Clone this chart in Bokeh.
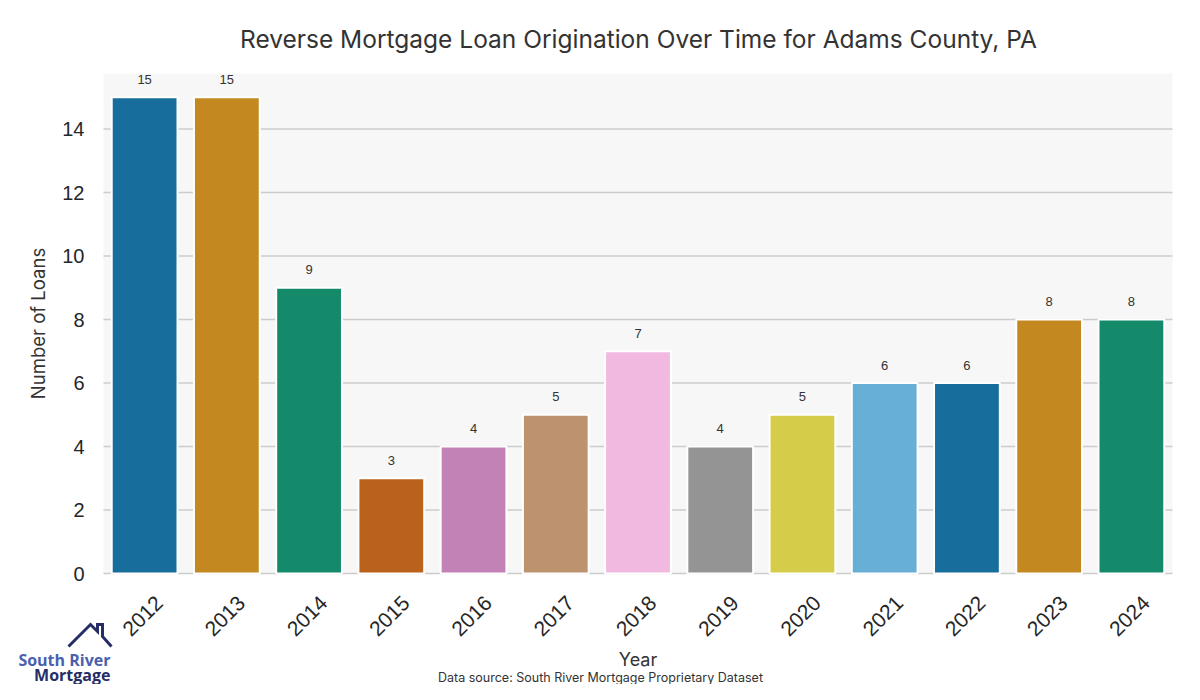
import math
from bokeh.plotting import figure
from bokeh.models import Range1d, FixedTicker, BoxAnnotation
from bokeh.embed import file_html
from bokeh.resources import INLINE
from bokeh.core.properties import value

# ---- data ----
years = ["2012", "2013", "2014", "2015", "2016", "2017", "2018",
         "2019", "2020", "2021", "2022", "2023", "2024"]
loans = [15, 15, 9, 3, 4, 5, 7, 4, 5, 6, 6, 8, 8]
palette = ["#176d9c", "#c38820", "#158a6a", "#ba611b", "#c282b6",
           "#bd926e", "#f1b8e0", "#949494", "#d5cd4a", "#68afd6"]
title_text = "Reverse Mortgage Loan Origination Over Time for Adams County, PA"
x_label = "Year"
y_label = "Number of Loans"
source_text = "Data source: South River Mortgage Proprietary Dataset"
y_ticks = [0, 2, 4, 6, 8, 10, 12, 14]
logo_line1 = "South River"
logo_line2 = "Mortgage"

xs = list(range(len(years)))
colors = [palette[i % len(palette)] for i in xs]

# ---- geometry (canvas px); the frame fills the whole canvas ----
W, H = 1184, 684
FL, FT, FR, FB = 103, 73, 1172, 573      # plot-area box
XMIN, XMAX = -0.5, len(years) - 0.5
YMIN, YMAX = 0, 15.75
PXX = (FR - FL) / (XMAX - XMIN)
PXY = (FB - FT) / (YMAX - YMIN)
LABEL_SHIFT = 0.18   # rotated tick labels centred under the bars

BG = "#f7f7f7"
GRID = "#cccccc"
TXT = "#333333"

p = figure(width=W, height=H, output_backend="svg", toolbar_location=None,
           x_range=Range1d(XMIN - FL / PXX, XMAX + (W - FR) / PXX),
           y_range=Range1d(YMIN - (H - FB) / PXY, YMAX + FT / PXY),
           min_border=0, min_border_left=0, min_border_right=0,
           min_border_top=0, min_border_bottom=0,
           background_fill_color="white", border_fill_color="white",
           outline_line_color=None)
p.extra_x_ranges = {"px": Range1d(0, W)}
p.extra_y_ranges = {"px": Range1d(H, 0)}
p.grid.visible = False

# plot-area background and grid lines
p.add_layout(BoxAnnotation(left=XMIN, right=XMAX, bottom=YMIN, top=YMAX,
                           fill_color=BG, fill_alpha=1, line_color=None,
                           level="underlay"))
p.segment(x0=[XMIN] * len(y_ticks), x1=[XMAX] * len(y_ticks), y0=y_ticks,
          y1=y_ticks, line_color=GRID, line_width=1.6)

# bars and value labels
p.vbar(x=xs, top=loans, width=0.8, fill_color=colors,
       line_color="white", line_width=2)
p.text(x=xs, y=loans, text=[str(v) for v in loans], y_offset=-18,
       text_align="center", text_baseline="middle",
       text_font=value("Liberation Sans"), text_font_size="13px",
       text_color=TXT)

# y axis (pinned to the left edge of the plot area)
ya = p.yaxis[0]
ya.fixed_location = XMIN
ya.bounds = (YMIN, YMAX)
ya.ticker = FixedTicker(ticks=y_ticks)
ya.axis_line_color = None
ya.major_tick_line_color = None
ya.minor_tick_line_color = None
ya.major_label_standoff = 13
ya.major_label_text_font = "Liberation Sans"
ya.major_label_text_font_size = "20px"
ya.major_label_text_color = "#262626"
ya.axis_label = y_label
ya.axis_label_text_font = "Inter"
ya.axis_label_text_font_style = "normal"
ya.axis_label_text_font_size = "18.5px"
ya.axis_label_text_color = TXT
ya.axis_label_standoff = 10

# x axis (pinned to y = 0)
xa = p.xaxis[0]
xa.fixed_location = YMIN
xa.bounds = (XMIN, XMAX)
tick_pos = [round(i + LABEL_SHIFT, 3) for i in xs]
xa.ticker = FixedTicker(ticks=tick_pos)
xa.major_label_overrides = {t: y for t, y in zip(tick_pos, years)}
xa.major_label_orientation = math.pi / 4
xa.axis_line_color = None
xa.major_tick_line_color = None
xa.minor_tick_line_color = None
xa.major_label_standoff = 20
xa.major_label_text_font = "Liberation Sans"
xa.major_label_text_font_size = "21px"
xa.major_label_text_color = "#262626"
xa.axis_label = x_label
xa.axis_label_text_font = "Inter"
xa.axis_label_text_font_style = "normal"
xa.axis_label_text_font_size = "18px"
xa.axis_label_text_color = TXT
xa.axis_label_standoff = 4

# title and source note (pixel coordinates)
p.text(x=[638], y=[38], text=[title_text], text_align="center",
       text_baseline="middle", text_font=value("Inter"),
       text_font_size="24.5px", text_color=TXT,
       x_range_name="px", y_range_name="px")
p.text(x=[600], y=[677], text=[source_text], text_align="center",
       text_baseline="middle", text_font=value("Inter"),
       text_font_size="12.5px", text_color=TXT,
       x_range_name="px", y_range_name="px")

# logo
p.line(x=[68, 90, 97, 97, 102, 102, 111], y=[646, 624, 631, 624, 624, 636, 646],
       line_color="#262d66", line_width=3, line_join="miter",
       x_range_name="px", y_range_name="px")
p.text(x=[110], y=[659], text=[logo_line1], text_align="right",
       text_baseline="alphabetic", text_font=value("Open Sans"),
       text_font_style="bold", text_font_size="16px", text_color="#4a5fae",
       x_range_name="px", y_range_name="px")
p.text(x=[110], y=[674], text=[logo_line2], text_align="right",
       text_baseline="alphabetic", text_font=value("Open Sans"),
       text_font_style="bold", text_font_size="16px", text_color="#262d66",
       x_range_name="px", y_range_name="px")

open("out.html", "w").write(file_html(p, INLINE))
